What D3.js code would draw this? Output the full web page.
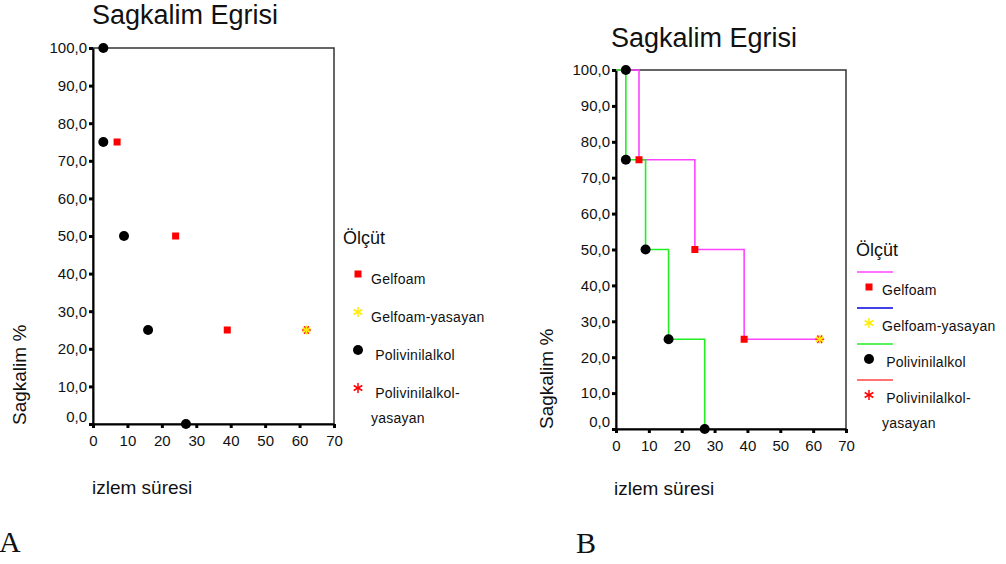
<!DOCTYPE html>
<html>
<head>
<meta charset="utf-8">
<script src="https://cdn.jsdelivr.net/npm/d3@7"></script>
<style>
  body { margin: 0; background: #fff; }
  text { font-family: "Liberation Sans", Arial, sans-serif; fill: #111; }
  .pre { white-space: pre; letter-spacing: 0.25px; }
</style>
</head>
<body>
<svg id="chart" width="1006" height="564"></svg>
<script>
// values
var xTicks = [0, 10, 20, 30, 40, 50, 60, 70];
var yTicks = [0, 10, 20, 30, 40, 50, 60, 70, 80, 90, 100];

var gelfoamT = [7, 24, 39];
var gelfoamS = [75, 50, 25];
var gelfoamCensT = [62];
var gelfoamCensS = [25];
var pvaT = [3, 3, 9, 16, 27];
var pvaS = [100, 75, 50, 25, 0];

// step curves (panel B)
var gelfoamStepT = [0, 7, 24, 39, 62];
var gelfoamStepS = [100, 75, 50, 25, 25];
var pvaStepT = [0, 3, 9, 16, 27];
var pvaStepS = [100, 75, 50, 25, 0];

var legendLabels = ["Gelfoam", "Gelfoam-yasayan", " Polivinilalkol", " Polivinilalkol-\nyasayan"];
var legendMarks = ["square", "asterisk", "circle", "asterisk"];
var legendMarkColors = ["#ff0000", "#ffee00", "#000000", "#ff0000"];
var legendLineColors = ["#ff44ff", "#0000dd", "#22ee22", "#ff4444"];

var svg = d3.select("#chart");

var panels = [
	{x0: 93, x1: 334, yTop: 48, yBot: 424, steps: false,
		title: [185, 24], ytitle: [26, 425], xtitle: [92, 494], letter: ["A", -1, 552],
		legend: {tx: 343, ty: 244, mx: 358, y: 274, gap: 38, dy: 9.5, lines: false}},
	{x0: 616, x1: 846, yTop: 70, yBot: 429, steps: true,
		title: [704, 47], ytitle: [553, 429], xtitle: [614, 495], letter: ["B", 576, 553],
		legend: {tx: 856, ty: 256, mx: 869, y: 287, gap: 36, dy: 7.5, lines: true}}
];

function asterisk(g, x, y, r, color, rot) {
	var a = g.append("g").attr("transform", `translate(${x},${y}) rotate(${rot || 0})`)
		.attr("stroke", color).attr("stroke-width", 1.5);
	[90, 30, -30].forEach(function(deg) {
		var rad = deg * Math.PI / 180;
		a.append("line")
			.attr("x1", -r * Math.cos(rad)).attr("y1", -r * Math.sin(rad))
			.attr("x2", r * Math.cos(rad)).attr("y2", r * Math.sin(rad));
	});
	return a;
}

function marker(g, type, x, y, color) {
	if (type == "square") {
		g.append("rect").attr("x", x - 3.5).attr("y", y - 3.5)
			.attr("width", 7).attr("height", 7).attr("fill", color);
	} else if (type == "circle") {
		g.append("circle").attr("cx", x).attr("cy", y).attr("r", 5).attr("fill", color);
	} else {
		asterisk(g, x, y, 5, color);
	}
}

panels.forEach(function(p) {
	var g = svg.append("g");

	var x = d3.scaleLinear().domain([0, 70]).range([p.x0, p.x1]);
	var y = d3.scaleLinear().domain([0, 100]).range([p.yBot, p.yTop]);

	// frame
	g.append("rect")
		.attr("x", p.x0).attr("y", p.yTop)
		.attr("width", p.x1 - p.x0).attr("height", p.yBot - p.yTop)
		.attr("fill", "none").attr("stroke", "#333").attr("stroke-width", 1.5);

	var yAxis = g.append("g")
		.attr("transform", `translate(${p.x0},0)`)
		.call(d3.axisLeft(y).tickValues(yTicks).tickSize(4).tickPadding(2).tickSizeOuter(0)
			.tickFormat(d => d.toFixed(1).replace(".", ",")));
	yAxis.select(".domain").attr("stroke", "#000").attr("stroke-width", 2);
	yAxis.selectAll(".tick line").attr("stroke", "#000").attr("stroke-width", 3);
	yAxis.selectAll(".tick text").style("font-size", "15px").attr("fill", "#111")
		.style("font-family", "Liberation Sans, Arial, sans-serif");
	yAxis.selectAll(".tick text").filter(d => d === 0).attr("dy", "-0.15em");

	var xAxis = g.append("g")
		.attr("transform", `translate(0,${p.yBot})`)
		.call(d3.axisBottom(x).tickValues(xTicks).tickSize(4).tickPadding(7).tickSizeOuter(0));
	xAxis.select(".domain").attr("stroke", "#000").attr("stroke-width", 2);
	xAxis.selectAll(".tick line").attr("stroke", "#000").attr("stroke-width", 3);
	xAxis.selectAll(".tick text").style("font-size", "15px").attr("fill", "#111")
		.style("font-family", "Liberation Sans, Arial, sans-serif");

	// survival steps
	if (p.steps) {
		var line = d3.line().x(d => x(d[0])).y(d => y(d[1])).curve(d3.curveStepAfter);
		g.append("path")
			.datum(gelfoamStepT.map((t, i) => [t, gelfoamStepS[i]]))
			.attr("d", line).attr("fill", "none")
			.attr("stroke", legendLineColors[0]).attr("stroke-width", 1.6);
		g.append("path")
			.datum(pvaStepT.map((t, i) => [t, pvaStepS[i]]))
			.attr("d", line).attr("fill", "none")
			.attr("stroke", legendLineColors[2]).attr("stroke-width", 1.6);
	}

	gelfoamT.forEach(function(t, i) { marker(g, "square", x(t), y(gelfoamS[i]), "#ff0000"); });
	pvaT.forEach(function(t, i) { marker(g, "circle", x(t), y(pvaS[i]), "#000"); });
	gelfoamCensT.forEach(function(t, i) {
		asterisk(g, x(t), y(gelfoamCensS[i]), 4.5, "#ff2222", 90);
		asterisk(g, x(t), y(gelfoamCensS[i]), 4.5, "#ffee00", 0);
	});

	// texts
	g.append("text")
		.attr("x", p.title[0]).attr("y", p.title[1])
		.attr("text-anchor", "middle")
		.style("font-size", "27px")
		.text("Sagkalim Egrisi");

	g.append("text")
		.attr("transform", `translate(${p.ytitle[0]},${p.ytitle[1]}) rotate(-90)`)
		.style("font-size", "19px")
		.text("Sagkalim %");

	g.append("text")
		.attr("x", p.xtitle[0]).attr("y", p.xtitle[1])
		.style("font-size", "19px")
		.text("izlem süresi");

	g.append("text")
		.attr("x", p.letter[1]).attr("y", p.letter[2])
		.style("font-family", "Liberation Serif, Times New Roman, serif")
		.style("font-size", "30px")
		.text(p.letter[0]);

	// legend
	var L = p.legend;
	g.append("text")
		.attr("x", L.tx).attr("y", L.ty)
		.style("font-size", "18px")
		.text("Ölçüt");

	legendLabels.forEach(function(lab, i) {
		var my = L.y + i * L.gap;
		if (L.lines) {
			g.append("line")
				.attr("x1", L.mx - 12).attr("x2", L.mx + 24)
				.attr("y1", my - 15).attr("y2", my - 15)
				.attr("stroke", legendLineColors[i]).attr("stroke-width", 1.6);
		}
		marker(g, legendMarks[i], L.mx, my, legendMarkColors[i]);
		var txt = g.append("text")
			.attr("class", "pre")
			.attr("x", L.mx + 13).attr("y", my + L.dy)
			.style("font-size", "14px");
		lab.split("\n").forEach(function(part, j) {
			txt.append("tspan")
				.attr("x", L.mx + 13)
				.attr("dy", j == 0 ? 0 : 25.5)
				.text(part);
		});
	});
});
</script>
</body>
</html>
